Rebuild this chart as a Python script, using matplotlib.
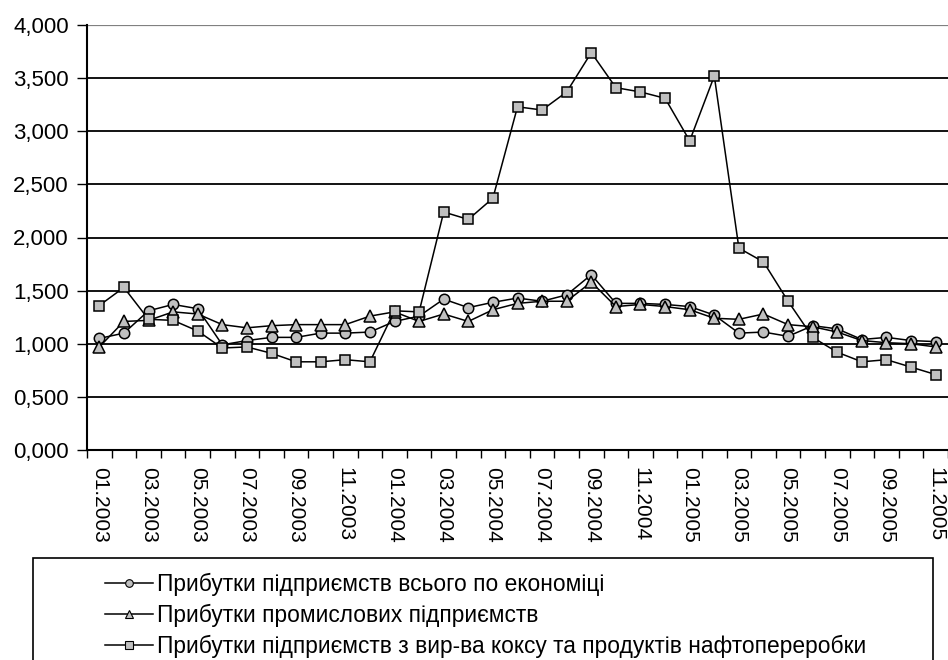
import matplotlib.pyplot as plt
from matplotlib.lines import Line2D
from matplotlib.patches import Rectangle

months = ['01.2003', '02.2003', '03.2003', '04.2003', '05.2003', '06.2003', '07.2003', '08.2003',
          '09.2003', '10.2003', '11.2003', '12.2003',
          '01.2004', '02.2004', '03.2004', '04.2004', '05.2004', '06.2004', '07.2004', '08.2004',
          '09.2004', '10.2004', '11.2004', '12.2004',
          '01.2005', '02.2005', '03.2005', '04.2005', '05.2005', '06.2005', '07.2005', '08.2005',
          '09.2005', '10.2005', '11.2005']

economy = [1.05, 1.10, 1.31, 1.37, 1.33, 0.99, 1.03, 1.06, 1.06, 1.10, 1.10, 1.11,
           1.21, 1.26, 1.42, 1.34, 1.39, 1.43, 1.40, 1.46, 1.65, 1.38, 1.38, 1.37,
           1.35, 1.27, 1.10, 1.11, 1.07, 1.17, 1.14, 1.04, 1.06, 1.03, 1.02]

industry = [0.97, 1.21, 1.22, 1.30, 1.28, 1.18, 1.15, 1.17, 1.18, 1.18, 1.18, 1.26,
            1.30, 1.21, 1.28, 1.21, 1.32, 1.38, 1.40, 1.40, 1.58, 1.35, 1.37, 1.35,
            1.32, 1.24, 1.23, 1.28, 1.18, 1.16, 1.11, 1.03, 1.01, 1.00, 0.97]

coke_oil = [1.36, 1.53, 1.23, 1.22, 1.12, 0.96, 0.97, 0.91, 0.83, 0.83, 0.85, 0.83,
            1.31, 1.30, 2.24, 2.17, 2.37, 3.23, 3.20, 3.37, 3.74, 3.41, 3.37, 3.31,
            2.91, 3.52, 1.90, 1.77, 1.40, 1.06, 0.92, 0.83, 0.85, 0.78, 0.71]

labels = ['Прибутки підприємств всього по економіці',
          'Прибутки промислових підприємств',
          'Прибутки підприємств з вир-ва коксу та продуктів нафтопереробки']

plt.rcParams['font.family'] = ['Liberation Sans', 'DejaVu Sans']
fill = '#c0c0c0'

fig = plt.figure(figsize=(9.48, 6.6), dpi=100)
ax = fig.add_axes([87 / 948, 1 - 450 / 660, 1 - 87 / 948, 425 / 660])

x = list(range(len(months)))
series = [(economy, 'o', 7.5), (industry, '^', 8.5), (coke_oil, 's', 7.5)]
for vals, marker, ms in series:
    ax.plot(x, vals, color='black', linewidth=1.1, marker=marker, markersize=ms,
            markerfacecolor=fill, markeredgecolor='black', markeredgewidth=1.1, zorder=3)

ax.set_xlim(-0.5, len(months) - 0.5)
ax.set_ylim(0, 4)
yticks = [i * 0.5 for i in range(9)]
ax.set_yticks(yticks)
ax.set_yticklabels([f'{v:.3f}'.replace('.', ',') for v in yticks], fontsize=16)
for v in yticks[1:-1]:
    ax.axhline(v, color='black', linewidth=1.3, zorder=1)
ax.axhline(4, color='#808080', linewidth=1.6, zorder=1)

ax.set_xticks(x[::2])
ax.set_xticklabels(months[::2], rotation=270, fontsize=15)
ax.set_xticks([i - 0.5 for i in range(len(months) + 1)], minor=True)
ax.tick_params(axis='x', which='major', length=0, pad=12)
ax.tick_params(axis='x', which='minor', length=6, width=1, direction='out')
ax.tick_params(axis='y', length=7, width=1, direction='out', pad=6)

for side in ['top', 'right']:
    ax.spines[side].set_visible(False)
ax.spines['left'].set_linewidth(1.5)
ax.spines['bottom'].set_linewidth(1.5)

# legend box, cut by the bottom edge
fig.patches.append(Rectangle((33 / 948, -0.05), 900 / 948, 0.05 + (660 - 558) / 660,
                             transform=fig.transFigure, fill=False, edgecolor='black',
                             linewidth=1.2))
handles = [Line2D([], [], color='black', linewidth=1.1, marker=m, markersize=5.5,
                  markerfacecolor=fill, markeredgecolor='black', markeredgewidth=0.8)
           for _, m, _ in series]
fig.legend(handles, labels, loc='upper left', bbox_to_anchor=(105 / 948, 1 - 573 / 660),
           frameon=False, fontsize=16.4, handlelength=2.1, handletextpad=0.2,
           labelspacing=0.35, borderaxespad=0, borderpad=0)

plt.savefig('out.png', dpi=100)
